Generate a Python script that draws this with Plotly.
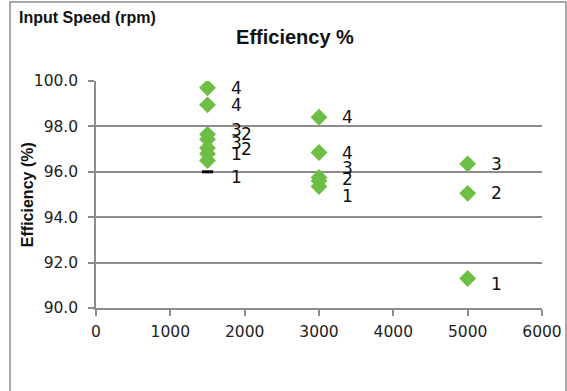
import plotly.graph_objects as go

# Data
speed_main = [1500, 1500, 1500, 1500, 1500, 1500, 1500,
              3000, 3000, 3000, 3000, 3000,
              5000, 5000, 5000]
eff_main = [99.7, 98.95, 97.65, 97.43, 97.05, 96.8, 96.5,
            98.4, 96.85, 95.75, 95.6, 95.35,
            96.35, 95.05, 91.3]
labels_main = ["4", "4", "3", "2", "3", "2", "1",
               "4", "4", "3", "2", "1",
               "3", "2", "1"]

speed_extra = [1500]
eff_extra = [96.0]
labels_extra = ["1"]

x_ticks = [0, 1000, 2000, 3000, 4000, 5000, 6000]
y_ticks = [90, 92, 94, 96, 98, 100]

GREEN = "#6DBE45"
FONT = "DejaVu Sans"
NARROW = "Liberation Sans Narrow, Arial Narrow, Liberation Sans, sans-serif"

# label nudges (pixels), mirroring the reference's label placement
nudge_main = [0, 0, 4, 5, 5, 5, 6, 0, 0, 9, 2, -9, 0, 0, -6]
xnudge_main = [0, 0, 0, 10, 0, 10, 0, 0, 0, 0, 0, 0, 0, 0, 0]
nudge_extra = [-5]
xnudge_extra = [0]

fig = go.Figure()
fig.add_trace(go.Scatter(
    x=speed_extra, y=eff_extra, mode="markers",
    marker=dict(symbol="line-ew", size=8, line=dict(color="black", width=3)),
    hoverinfo="skip", showlegend=False))
fig.add_trace(go.Scatter(
    x=speed_main, y=eff_main, mode="markers",
    marker=dict(symbol="diamond", size=13, color=GREEN, line=dict(width=0)),
    showlegend=False))

annotations = []
for xs, ys, ls, ns, xn in [(speed_main, eff_main, labels_main, nudge_main, xnudge_main),
                           (speed_extra, eff_extra, labels_extra, nudge_extra, xnudge_extra)]:
    for xv, yv, lv, nv, xv2 in zip(xs, ys, ls, ns, xn):
        annotations.append(dict(x=xv, y=yv, text=lv, showarrow=False,
                                xanchor="left", yanchor="middle", xshift=21 + xv2, yshift=nv,
                                font=dict(family=FONT, size=17, color="#111")))

annotations.append(dict(text="<b>Input Speed (rpm)</b>", xref="paper", yref="paper",
                        x=(17 - 96) / 446, y=(308 - 17) / 227.3, xanchor="left", yanchor="middle",
                        showarrow=False, font=dict(family=NARROW, size=16, color="#111")))
annotations.append(dict(text="<b>Efficiency (%)</b>", xref="paper", yref="paper",
                        x=(27 - 96) / 446, y=(308 - 195) / 227.3, xanchor="center", yanchor="middle",
                        textangle=-90, showarrow=False,
                        font=dict(family=NARROW, size=16, color="#111")))

fig.update_layout(
    width=567, height=391,
    margin=dict(l=96, r=25, t=81, b=83, autoexpand=False),
    paper_bgcolor="white", plot_bgcolor="white",
    title=dict(text="<b>Efficiency %</b>", x=295 / 567, xanchor="center",
               y=1 - 37 / 391, yanchor="middle",
               font=dict(family=NARROW, size=20, color="#111")),
    annotations=annotations,
    xaxis=dict(range=[0, 6000], tickvals=x_ticks, showgrid=False, automargin=False,
               showline=True, linecolor="#8c8c8c", linewidth=1.5,
               ticks="outside", ticklen=6, tickcolor="#8c8c8c", tickwidth=1.5,
               ticklabelstandoff=3,
               tickfont=dict(family=FONT, size=15.5, color="#222"), zeroline=False),
    yaxis=dict(range=[90, 100], tickvals=y_ticks, tickformat=".1f", automargin=False,
               showgrid=True, gridcolor="#8c8c8c", gridwidth=1.5,
               showline=True, linecolor="#8c8c8c", linewidth=1.5,
               ticks="outside", ticklen=6, tickcolor="#8c8c8c", tickwidth=1.5,
               ticklabelstandoff=7,
               tickfont=dict(family=FONT, size=15.5, color="#222"), zeroline=False),
    shapes=[dict(type="rect", xref="paper", yref="paper",
                 x0=(10 - 96) / 446, x1=(566 - 96) / 446,
                 y0=(308 - 400) / 227.3, y1=(308 - 1.5) / 227.3,
                 line=dict(color="#8c8c8c", width=1.5), layer="below")],
)

fig.write_html("out.html", config={"displayModeBar": False},
               post_script="document.body.style.margin='0';")
